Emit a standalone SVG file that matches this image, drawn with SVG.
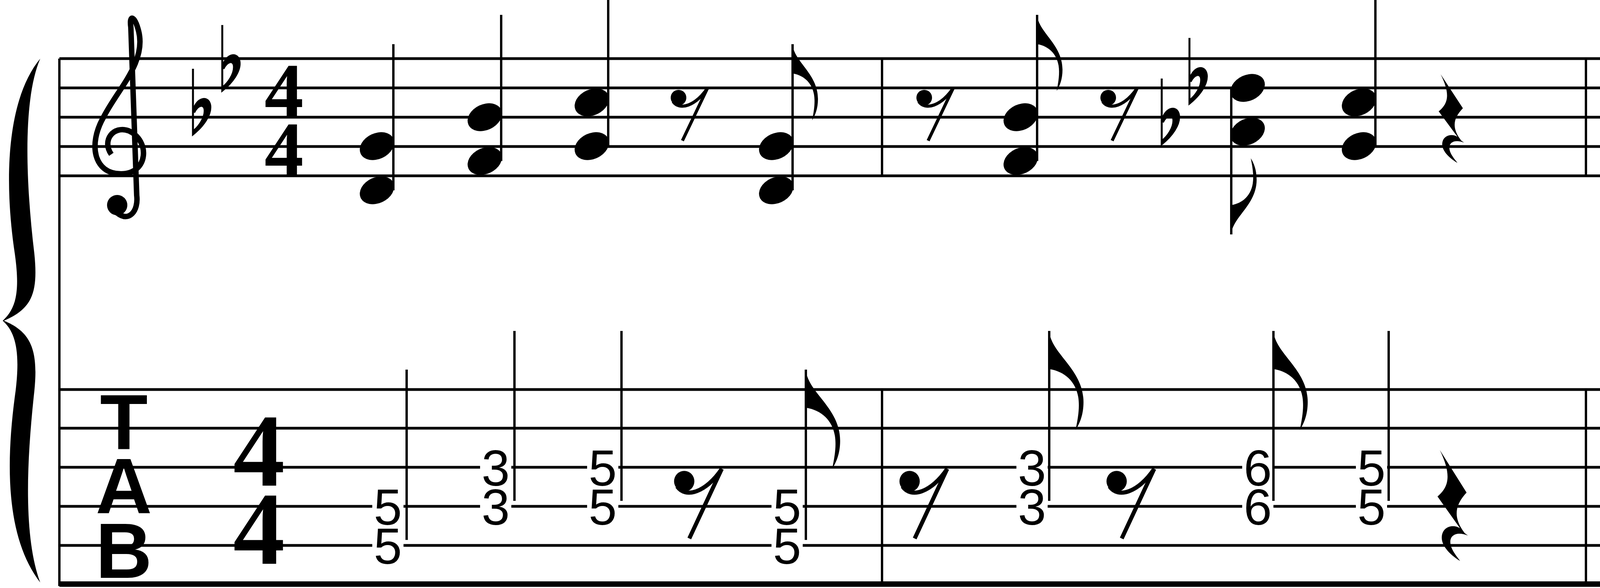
<svg xmlns="http://www.w3.org/2000/svg" xmlns:xlink="http://www.w3.org/1999/xlink" width="6815" height="1505" viewBox="0 0 6815 1505">
<style>
.ln{stroke:#000;stroke-width:7;fill:none}
.st{stroke:#000;stroke-width:6;fill:none}
.tn{font-family:"Liberation Sans",Arial,sans-serif;font-size:130px;text-anchor:middle;fill:#000}
.tab{font-family:"Liberation Sans",Arial,sans-serif;font-weight:bold;font-size:200px;text-anchor:middle;fill:#000}
.ts{font-family:"Liberation Serif","Times New Roman",serif;font-weight:bold;text-anchor:middle;fill:#000}
.nb{fill:#fff}
</style>
<defs>
<ellipse id="nh" rx="46" ry="33" transform="rotate(-25)"/>
<g id="hn"><ellipse rx="46" ry="33" transform="rotate(-25)"/><ellipse rx="38" ry="12" transform="rotate(-62)" fill="#fff"/></g>
<path id="flat" d="M0,-168 L0,0 M0,0 C25,-20 48,-50 44,-75 C40,-98 14,-96 3,-68 L3,-56 C12,-76 30,-80 30,-60 C30,-42 16,-20 0,-8 Z" stroke="#000" stroke-width="5" fill="#000"/>
<g id="r8"><circle cx="22" cy="24" r="20"/><path d="M8,34 C25,58 65,45 96,0" stroke="#000" stroke-width="8" fill="none"/><path d="M96,0 L32,134" stroke="#000" stroke-width="8"/></g>
<path id="r4" d="M5,0 L62,87 C40,110 30,135 58,170 L65,175 C40,165 20,175 30,200 C35,212 45,222 48,227 C20,210 5,190 10,172 C15,155 35,152 48,160 L0,95 C25,75 30,50 5,0 Z"/>
<path id="fu" d="M0,0 C3,45 65,75 65,140 C65,165 58,182 50,195 C55,170 58,150 55,130 C50,100 30,80 0,75 Z"/>
</defs>

<g id="brace"><path d="M103,150 C20,250 8,450 38,650 C52,750 40,790 7,821 C40,850 52,900 40,1000 C12,1200 18,1380 103,1491 C62,1380 66,1200 88,1000 C98,900 82,850 10,821 C82,790 98,750 88,650 C64,450 60,250 103,150 Z"/></g>

<g id="staff1">
<path class="ln" d="M152,150H6800M152,225H6800M152,300H6800M152,375H6800M152,450H6800"/>
</g>
<g id="staff2">
<path class="ln" d="M152,997H6800M152,1096H6800M152,1196H6800M152,1296H6800M152,1396H6800"/>
<path d="M152,1495H6800" stroke="#000" stroke-width="14"/>
</g>
<g id="barlines">
<path class="st" d="M152,150V1500M2258,150V450M4060,150V450M5517,150V450M6803,150V450M2258,997V1495M4060,997V1495M5517,997V1495M6803,997V1495"/>
</g>

<g id="clef">
<path d="M300,545 C330,570 355,540 350,500 L335,70 C330,35 345,40 355,80 C375,160 300,230 265,300 C225,370 240,445 310,445 C380,445 385,360 330,335 C290,320 260,360 285,395" stroke="#000" stroke-width="14" fill="none"/>
<circle cx="300" cy="525" r="26"/>
</g>
<g id="keysig"><use href="#flat" x="494" y="344"/><use href="#flat" x="569" y="232"/></g>
<g id="timesig"><text class="ts" x="727" y="300" font-size="200">4</text><text class="ts" x="727" y="450" font-size="200">4</text></g>
<g id="tablabel"><text class="tab" x="317" y="1150">T</text><text class="tab" x="317" y="1313">A</text><text class="tab" x="317" y="1479">B</text></g>
<g id="tabtime"><text class="ts" x="663" y="1243" font-size="265">4</text><text class="ts" x="663" y="1443" font-size="265">4</text></g>

<g id="notes">
<!-- M1 -->
<use href="#nh" x="965" y="374"/><use href="#nh" x="965" y="487"/><path class="st" d="M1007,487V113"/>
<use href="#nh" x="1241" y="300"/><use href="#nh" x="1241" y="412"/><path class="st" d="M1283,412V38"/>
<use href="#nh" x="1515" y="262"/><use href="#nh" x="1515" y="374"/><path class="st" d="M1557,374V0"/>
<use href="#r8" x="1715" y="226"/>
<use href="#nh" x="1987" y="374"/><use href="#nh" x="1987" y="487"/><path class="st" d="M2029,487V113"/><use href="#fu" x="2029" y="113"/>
<!-- M2 -->
<use href="#r8" x="2344" y="226"/>
<use href="#nh" x="2613" y="300"/><use href="#nh" x="2613" y="412"/><path class="st" d="M2655,412V38"/><use href="#fu" x="2655" y="38"/>
<use href="#r8" x="2815" y="226"/>
<use href="#flat" x="2974" y="369"/><use href="#flat" x="3045" y="265"/>
<use href="#nh" x="3194" y="225"/><use href="#nh" x="3194" y="337"/><path class="st" d="M3152,225V600"/><use href="#fu" transform="translate(3152,600) scale(1,-1)"/>
<use href="#nh" x="3479" y="262"/><use href="#nh" x="3479" y="374"/><path class="st" d="M3521,374V0"/>
<use href="#r4" x="3683" y="190"/>
<!-- M3 -->
<use href="#nh" x="4224" y="374"/><use href="#nh" x="4224" y="487"/><path class="st" d="M4266,487V113"/>
<use href="#nh" x="4493" y="300"/><use href="#nh" x="4493" y="412"/><path class="st" d="M4535,412V38"/>
<use href="#nh" x="4775" y="262"/><use href="#nh" x="4775" y="374"/><path class="st" d="M4817,374V0"/>
<use href="#r8" x="4978" y="226"/>
<use href="#nh" x="5247" y="300"/><use href="#nh" x="5247" y="412"/><path class="st" d="M5289,412V38"/><use href="#fu" x="5289" y="38"/>
<path d="M5295,257 Q5462,183 5630,261 Q5462,207 5295,257 Z"/>
<path d="M5295,441 Q5462,541 5630,441 Q5462,515 5295,441 Z"/>
<!-- M4 -->
<use href="#nh" x="5678" y="300"/><use href="#nh" x="5678" y="412"/><path class="st" d="M5720,412V0"/>
<use href="#nh" x="5908" y="374"/><use href="#nh" x="5908" y="487"/><path class="st" d="M5950,487V75"/>
<path d="M5717,0 L5953,75 L5953,113 L5717,42 Z"/>
<path d="M5953,335 Q6022,275 6092,335 Q6022,292 5953,335 Z"/>
<path d="M5955,525 Q6022,595 6090,525 Q6022,580 5955,525 Z"/>
<use href="#hn" x="6138" y="374"/><use href="#hn" x="6138" y="487"/><path class="st" d="M6180,487V113"/>
<use href="#r4" x="6433" y="190"/>
</g>

<g id="tabnotes">
<g class="nb">
<rect x="953" y="1256" width="80" height="80"/><rect x="953" y="1356" width="80" height="80"/>
<rect x="1229" y="1156" width="80" height="80"/><rect x="1229" y="1256" width="80" height="80"/>
<rect x="1503" y="1156" width="80" height="80"/><rect x="1503" y="1256" width="80" height="80"/>
<rect x="1975" y="1256" width="80" height="80"/><rect x="1975" y="1356" width="80" height="80"/>
<rect x="2602" y="1156" width="80" height="80"/><rect x="2602" y="1256" width="80" height="80"/>
<rect x="3180" y="1156" width="80" height="80"/><rect x="3180" y="1256" width="80" height="80"/>
<rect x="3471" y="1156" width="80" height="80"/><rect x="3471" y="1256" width="80" height="80"/>
<rect x="4202" y="1256" width="80" height="80"/><rect x="4202" y="1356" width="80" height="80"/>
<rect x="4481" y="1156" width="80" height="80"/><rect x="4481" y="1256" width="80" height="80"/>
<rect x="4759" y="1156" width="80" height="80"/><rect x="4759" y="1256" width="80" height="80"/>
<rect x="5235" y="1156" width="80" height="80"/><rect x="5235" y="1256" width="80" height="80"/>
<rect x="5665" y="1156" width="80" height="80"/><rect x="5665" y="1256" width="80" height="80"/>
<rect x="5890" y="1256" width="80" height="80"/><rect x="5890" y="1356" width="80" height="80"/>
<rect x="6123" y="1256" width="80" height="80"/><rect x="6123" y="1356" width="80" height="80"/>
</g>
<text class="tn" x="993" y="1343">5</text><text class="tn" x="993" y="1443">5</text>
<text class="tn" x="1269" y="1243">3</text><text class="tn" x="1269" y="1343">3</text>
<text class="tn" x="1543" y="1243">5</text><text class="tn" x="1543" y="1343">5</text>
<text class="tn" x="2015" y="1343">5</text><text class="tn" x="2015" y="1443">5</text>
<text class="tn" x="2642" y="1243">3</text><text class="tn" x="2642" y="1343">3</text>
<text class="tn" x="3220" y="1243">6</text><text class="tn" x="3220" y="1343">6</text>
<text class="tn" x="3511" y="1243">5</text><text class="tn" x="3511" y="1343">5</text>
<text class="tn" x="4242" y="1343">5</text><text class="tn" x="4242" y="1443">5</text>
<text class="tn" x="4521" y="1243">3</text><text class="tn" x="4521" y="1343">3</text>
<text class="tn" x="4799" y="1243">5</text><text class="tn" x="4799" y="1343">5</text>
<text class="tn" x="5275" y="1243">3</text><text class="tn" x="5275" y="1343">3</text>
<text class="tn" x="5705" y="1243">3</text><text class="tn" x="5705" y="1343">3</text>
<text class="tn" x="5930" y="1343">5</text><text class="tn" x="5930" y="1443">5</text>
<text class="tn" x="6163" y="1343">5</text><text class="tn" x="6163" y="1443">5</text>
<path class="st" d="M1041,946V1382M1317,847V1282M1591,847V1282M2063,946V1382M2686,847V1282M3260,847V1282M3555,847V1282M4296,946V1382M4571,847V1282M4849,847V1282M5323,847V1282M5750,798V1282M5984,894V1382M6212,946V1382"/>
<use href="#fu" transform="translate(2063,946) scale(1.35,1.3)"/>
<use href="#fu" transform="translate(2686,847) scale(1.35,1.3)"/>
<use href="#fu" transform="translate(3260,847) scale(1.35,1.3)"/>
<use href="#fu" transform="translate(5323,847) scale(1.35,1.3)"/>
<path d="M5747,798 L5987,894 L5987,946 L5747,850 Z"/>
<use href="#r8" transform="translate(1723,1200) scale(1.3,1.33)"/>
<use href="#r8" transform="translate(2300,1200) scale(1.3,1.33)"/>
<use href="#r8" transform="translate(2830,1200) scale(1.3,1.33)"/>
<use href="#r8" transform="translate(4996,1200) scale(1.3,1.33)"/>
<use href="#r4" transform="translate(3680,1152) scale(1.2,1.25)"/>
<use href="#r4" transform="translate(6440,1152) scale(1.2,1.32)"/>
<path d="M5323,1135 Q5478,1063 5634,1135 Q5478,1089 5323,1135 Z"/>
<path d="M5323,1345 Q5478,1435 5634,1345 Q5478,1409 5323,1345 Z"/>
<path d="M5987,1240 Q6040,1160 6092,1240 Q6040,1190 5987,1240 Z"/>
<path d="M5987,1445 Q6040,1525 6092,1445 Q6040,1495 5987,1445 Z"/>
</g>
</svg>
